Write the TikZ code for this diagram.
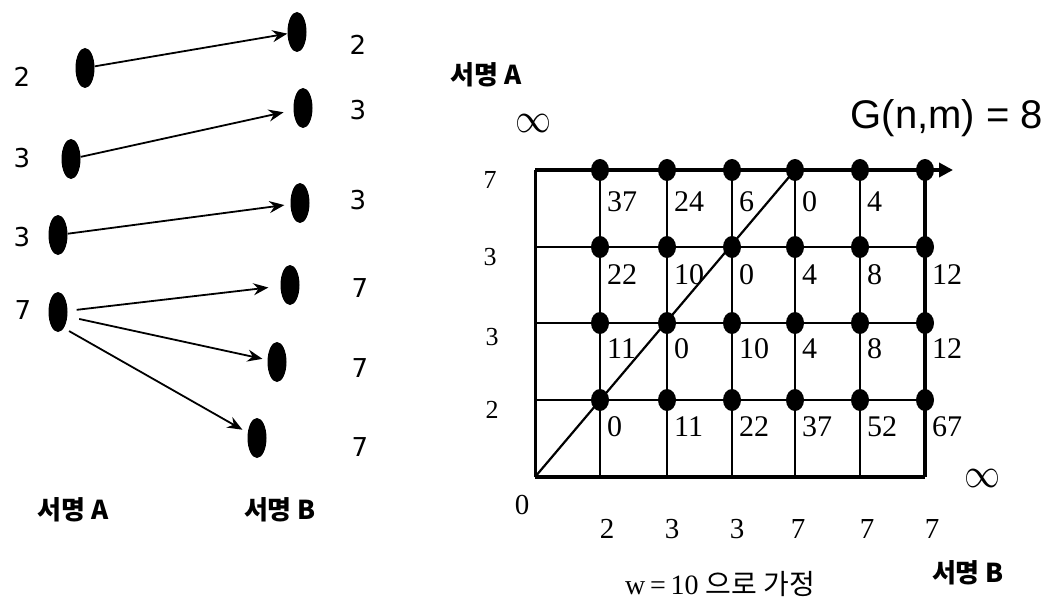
\documentclass[tikz,border=0pt]{standalone}
\usepackage{fontspec}
\setmainfont{Liberation Serif}
\newfontfamily\krfont{Noto Sans CJK KR}
\newfontfamily\digfont{DejaVu Sans}
\newfontfamily\gfont{Liberation Sans}
\usetikzlibrary{arrows.meta, shapes.geometric, calc}

\begin{document}
\begin{tikzpicture}[x=1pt, y=-1pt, >={Stealth[length=15pt, width=12pt, inset=5pt]},
	every node/.style={inner sep=0pt},
	seqdot/.style={ellipse, fill=black, minimum width=19pt, minimum height=40pt},
	griddot/.style={ellipse, fill=black, minimum width=18pt, minimum height=22pt},
	link/.style={->, line width=1.8pt},
	digit/.style={font=\digfont\fontsize{26}{26}\selectfont},
	cellnum/.style={anchor=west, font=\fontsize{30}{30}\selectfont},
	axisnum/.style={font=\fontsize{29}{29}\selectfont},
	sidenum/.style={font=\fontsize{26}{26}\selectfont},
	krlabel/.style={font=\krfont\bfseries\fontsize{26}{26}\selectfont}]
	\useasboundingbox (0,0) rectangle (1044,599);
	
	% 1. 왼쪽: 서명 A 와 서명 B 의 점
	\node[seqdot] (A1) at (85,68) {};
	\node[seqdot] (A2) at (71,159) {};
	\node[seqdot] (A3) at (58,235) {};
	\node[seqdot] (A4) at (58,312) {};
	\node[seqdot] (B1) at (297,32) {};
	\node[seqdot] (B2) at (303,108) {};
	\node[seqdot] (B3) at (300,203) {};
	\node[seqdot] (B4) at (290,285) {};
	\node[seqdot] (B5) at (277,362) {};
	\node[seqdot] (B6) at (257,438) {};
	
	% 2. 대응 화살표
	\draw[link] (A1) -- (B1);
	\draw[link, shorten >=10pt] (A2) -- (B2);
	\draw[link, shorten >=6pt] (A3) -- (B3);
	\draw[link, shorten <=9pt, shorten >=12pt] (A4) -- (B4);
	\draw[link, shorten <=12pt, shorten >=5pt] (A4.-25) -- (B5);
	\draw[link, shorten <=6pt, shorten >=6pt] (A4.-70) -- (B6);
	
	% 값 표시
	\node[digit] (la1) at (22,77) {2};
	\node[digit] (la2) at (22,158) {3};
	\node[digit] (la3) at (22,237) {3};
	\node[digit] (la4) at (23,310) {7};
	\node[digit] (lb1) at (358,45) {2};
	\node[digit] (lb2) at (358,110) {3};
	\node[digit] (lb3) at (358,200) {3};
	\node[digit] (lb4) at (360,288) {7};
	\node[digit] (lb5) at (360,368) {7};
	\node[digit] (lb6) at (360,447) {7};
	\node[krlabel] (nameA) at (73,510) {서명 A};
	\node[krlabel] (nameB) at (280,510) {서명 B};
	
	% 3. 오른쪽: 격자 좌표
	\foreach \x [count=\i from 0] in {535,600,667,732,795,860,925}
		\foreach \y [count=\j from 0] in {477,400,323,247,170}
			\coordinate (g\i-\j) at (\x,\y);
	\coordinate (topend) at (953,170);
	
	% 격자선
	\foreach \i in {1,...,5}
		\draw[line width=1.5pt] (g\i-0) -- (g\i-4);
	\foreach \j in {1,2,3}
		\draw[line width=1.5pt] (g0-\j) -- (g6-\j);
	\draw[line width=3pt] (g0-0) -- (g0-4);
	\draw[line width=3.5pt] (g6-0) -- (g6-4);
	\draw[line width=3.5pt] (g0-0) -- (g6-0);
	\draw[line width=3.5pt, -{Triangle[length=14pt, width=14pt]}] (g0-4) -- (topend);
	
	% 대각선
	\draw[line width=2.2pt] (g0-0) -- (g4-4);
	
	% 4. 격자 점
	\foreach \i in {1,...,6}
		\foreach \j in {1,...,4}
			\node[griddot] (d\i-\j) at (g\i-\j) {};
	
	% 5. 누적 거리 값
	\foreach \v [count=\i] in {37,24,6,0,4}
		\node[cellnum] (c\i-4) at ($(g\i-4)+(7,32)$) {\v};
	\foreach \v [count=\i] in {22,10,0,4,8,12}
		\node[cellnum] (c\i-3) at ($(g\i-3)+(7,28)$) {\v};
	\foreach \v [count=\i] in {11,0,10,4,8,12}
		\node[cellnum] (c\i-2) at ($(g\i-2)+(7,26)$) {\v};
	\foreach \v [count=\i] in {0,11,22,37,52,67}
		\node[cellnum] (c\i-1) at ($(g\i-1)+(7,27)$) {\v};
	
	% 축 값
	\node[sidenum] (ya4) at (490,180) {7};
	\node[sidenum] (ya3) at (490,257) {3};
	\node[sidenum] (ya2) at (492,337) {3};
	\node[sidenum] (ya1) at (492,410) {2};
	\node[axisnum] (orig) at (522,505) {0};
	\foreach \v/\x [count=\i] in {2/607,3/672,3/737,7/798,7/867,7/932}
		\node[axisnum] (xb\i) at (\x,529) {\v};
	
	% 6. 라벨
	\node (inftop) at (533,123) {\resizebox{36pt}{18pt}{$\infty$}};
	\node (infright) at (982,478) {\resizebox{36pt}{18pt}{$\infty$}};
	\node[krlabel] (axisA) at (486,75) {서명 A};
	\node[krlabel] (axisB) at (968,573) {서명 B};
	\node[font=\gfont\fontsize{40}{40}\selectfont] (gnm) at (947,118) {G(n,m) = 8};
	\node[font=\fontsize{28}{28}\selectfont] (wnote) at (720,584) {w\,=\,10 {\krfont 으로 가정}};
\end{tikzpicture}
\end{document}
